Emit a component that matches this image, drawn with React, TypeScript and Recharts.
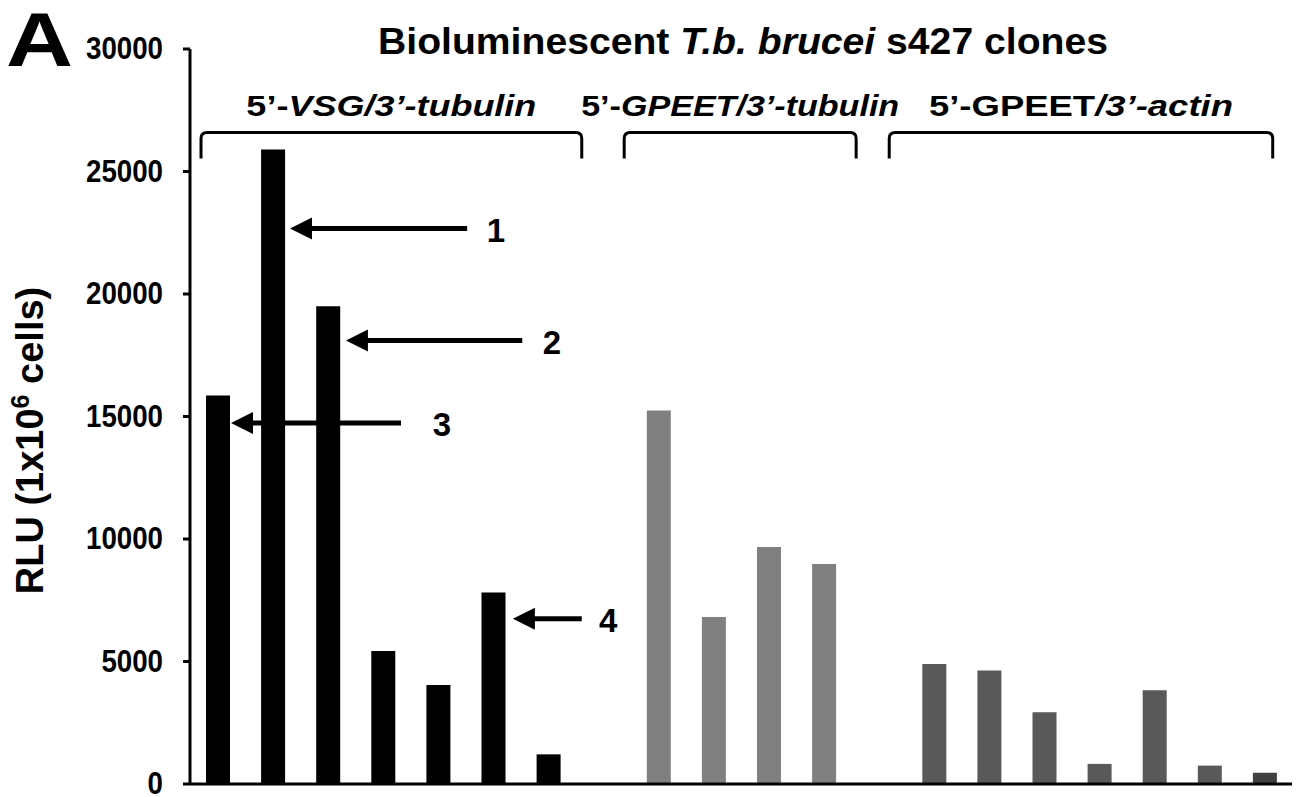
import { BarChart, Bar, Cell, XAxis, YAxis, ReferenceLine } from "recharts";

const FONT = "'Liberation Sans', Arial, sans-serif";

// RLU values, one array per construct group
const vsgTubulin = [15860, 25900, 19500, 5430, 4040, 7815, 1210];
const gpeetTubulin = [15250, 6820, 9670, 8975];
const gpeetActin = [4900, 4630, 2930, 820, 3830, 750, 460];

const groupColors = ["#000000", "#808080", "#595959"];
const lastBarColor = "#404040";

const yTicks = [0, 5000, 10000, 15000, 20000, 25000, 30000];
const xTicks = Array.from({ length: 21 }, (_, i) => i);

// group brackets, in x-axis units (one unit per clone slot)
const groupParts = [
  [["5’-", false], ["VSG/3’-tubulin", true]],
  [["5’-", false], ["GPEET/3’-tubulin", true]],
  [["5’-GPEET", false], ["/3’-actin", true]],
];
const groupLabelWidth = [290, 318, 304];
const bracketStart = [0.2, 7.88, 12.69];
const bracketEnd = [7.11, 12.09, 19.65];
const bracketLevel = 26590;

// numbered arrows
const arrowLabels = ["1", "2", "3", "4"];
const arrowLevel = [22670, 18100, 14730, 6740];
const arrowTip = [1.815, 2.83, 0.744, 5.86];
const arrowTail = [5.03, 6.03, 3.83, 7.11];
const arrowTextAt = [5.55, 6.57, 4.57, 7.59];

type Row = { x: number; value: number | null; color: string };

// one slot per clone, with an empty slot between groups
const rows: Row[] = [
  ...vsgTubulin.map((v) => ({ value: v, color: groupColors[0] })),
  { value: null, color: "none" },
  ...gpeetTubulin.map((v) => ({ value: v, color: groupColors[1] })),
  { value: null, color: "none" },
  ...gpeetActin.map((v, i) => ({
    value: v,
    color: i === gpeetActin.length - 1 ? lastBarColor : groupColors[2],
  })),
].map((r, i) => ({ ...r, x: i + 0.5 }));

const YTick = (props: any) => {
  const { x, y, payload } = props;
  const s = String(payload.value);
  return (
    <text
      x={x}
      y={y + 10}
      textAnchor="end"
      fontFamily={FONT}
      fontWeight="bold"
      fontSize={31}
      textLength={s.length * 15.4}
      lengthAdjust="spacingAndGlyphs"
      fill="#000"
    >
      {s}
    </text>
  );
};

const yLabel = (props: any) => {
  const vb = props.viewBox || {};
  const cx = vb.x + 43;
  const cy = vb.y + vb.height / 2 + 24;
  return (
    <text
      x={cx}
      y={cy}
      transform={`rotate(-90 ${cx} ${cy})`}
      textAnchor="middle"
      fontFamily={FONT}
      fontWeight="bold"
      fontSize={38}
      fill="#000"
    >
      RLU (1x10
      <tspan fontSize={25} dy={-14}>
        6
      </tspan>
      <tspan dy={14}> cells)</tspan>
    </text>
  );
};

const makeBracket = (g: number) => (p: any) => {
  const { x1, y1, x2 } = p;
  const drop = 26;
  const r = 6;
  const d = `M${x1},${y1 + drop} L${x1},${y1 + r} Q${x1},${y1} ${x1 + r},${y1} L${x2 - r},${y1} Q${x2},${y1} ${x2},${y1 + r} L${x2},${y1 + drop}`;
  return (
    <g>
      <path d={d} fill="none" stroke="#000" strokeWidth={3} />
      <text
        x={(x1 + x2) / 2}
        y={y1 - 17}
        textAnchor="middle"
        fontFamily={FONT}
        fontWeight="bold"
        fontSize={30}
        textLength={groupLabelWidth[g]}
        lengthAdjust="spacingAndGlyphs"
        fill="#000"
      >
        {groupParts[g].map(([t, it], k) => (
          <tspan key={k} fontStyle={it ? "italic" : "normal"}>
            {t as string}
          </tspan>
        ))}
      </text>
    </g>
  );
};

const makeArrow = (a: number) => (p: any) => {
  const { x1, y1, x2 } = p;
  const unit = (x2 - x1) / (arrowTail[a] - arrowTip[a]);
  const tx = x2 + (arrowTextAt[a] - arrowTail[a]) * unit;
  const head = 22;
  const half = 11;
  return (
    <g>
      <line x1={x1 + head - 2} y1={y1} x2={x2} y2={y1} stroke="#000" strokeWidth={5} />
      <polygon
        points={`${x1},${y1} ${x1 + head},${y1 - half} ${x1 + head},${y1 + half}`}
        fill="#000"
      />
      <text
        x={tx}
        y={y1 + 13}
        textAnchor="middle"
        fontFamily={FONT}
        fontWeight="bold"
        fontSize={33}
        fill="#000"
      >
        {arrowLabels[a]}
      </text>
    </g>
  );
};

export default function App() {
  return (
    <div style={{ position: "absolute", left: 0, top: 0, width: 1300, height: 797, background: "#fff" }}>
      <BarChart
        width={1300}
        height={797}
        data={rows}
        margin={{ top: 49, right: 8, bottom: 0, left: 0 }}
      >
        <XAxis
          dataKey="x"
          type="number"
          domain={[0, 20]}
          allowDataOverflow
          ticks={xTicks}
          interval={0}
          tick={false}
          height={13}
          tickSize={7}
          axisLine={{ stroke: "#000", strokeWidth: 3 }}
          tickLine={{ stroke: "#000", strokeWidth: 3 }}
        />
        <YAxis
          width={190}
          domain={[0, 30000]}
          ticks={yTicks}
          interval={0}
          tickSize={7}
          tickMargin={20}
          tick={<YTick />}
          axisLine={{ stroke: "#000", strokeWidth: 3 }}
          tickLine={{ stroke: "#000", strokeWidth: 3 }}
          label={yLabel}
        />
        <Bar dataKey="value" barSize={24} isAnimationActive={false}>
          {rows.map((r, i) => (
            <Cell key={i} fill={r.color} />
          ))}
        </Bar>
        {bracketStart.map((s, g) => (
          <ReferenceLine
            key={`b${g}`}
            ifOverflow="visible"
            segment={[
              { x: s, y: bracketLevel },
              { x: bracketEnd[g], y: bracketLevel },
            ]}
            shape={makeBracket(g)}
          />
        ))}
        {arrowLabels.map((_, a) => (
          <ReferenceLine
            key={`a${a}`}
            ifOverflow="visible"
            segment={[
              { x: arrowTip[a], y: arrowLevel[a] },
              { x: arrowTail[a], y: arrowLevel[a] },
            ]}
            shape={makeArrow(a)}
          />
        ))}
      </BarChart>
      <svg
        width={1300}
        height={797}
        style={{ position: "absolute", left: 0, top: 0, pointerEvents: "none" }}
      >
        <text
          x={6}
          y={66}
          fontFamily={FONT}
          fontWeight="bold"
          fontSize={76}
          textLength={67}
          lengthAdjust="spacingAndGlyphs"
          fill="#000"
        >
          A
        </text>
        <text
          x={743}
          y={54}
          textAnchor="middle"
          fontFamily={FONT}
          fontWeight="bold"
          fontSize={36}
          textLength={730}
          lengthAdjust="spacingAndGlyphs"
          fill="#000"
        >
          Bioluminescent <tspan fontStyle="italic">T.b. brucei</tspan> s427 clones
        </text>
      </svg>
    </div>
  );
}
